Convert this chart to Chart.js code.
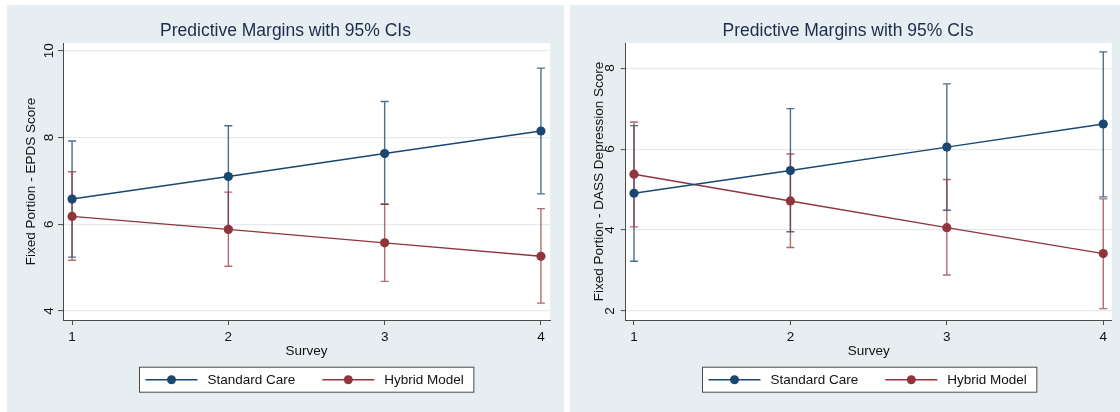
<!DOCTYPE html>
<html>
<head>
<meta charset="utf-8">
<script src="https://cdn.jsdelivr.net/npm/chart.js@4.4.1/dist/chart.umd.min.js"></script>
<style>
  html, body { margin: 0; padding: 0; background: #ffffff; width: 1120px; height: 412px; overflow: hidden; }
  .panel { position: absolute; top: 5px; height: 407px; background: #e7eef1; }
  canvas { display: block; }
</style>
</head>
<body>
<div class="panel" style="left:7px;width:557px;"><canvas id="c1" width="557" height="407"></canvas></div>
<div class="panel" style="left:570px;width:550px;"><canvas id="c2" width="550" height="407"></canvas></div>
<script>
// ---- data ----
const surveys = [1, 2, 3, 4];
const xTicks = [1, 2, 3, 4];
const seriesLabels = ['Standard Care', 'Hybrid Model'];
const chartTitle = 'Predictive Margins with 95% CIs';
const xAxisTitle = 'Survey';

// Left panel: EPDS
const epdsYTicks = [4, 6, 8, 10];
const epdsStandard    = [6.58, 7.10, 7.63, 8.15];
const epdsStandardLow = [5.24, 5.93, 6.46, 6.70];
const epdsStandardHigh= [7.92, 8.27, 8.83, 9.60];
const epdsHybrid      = [6.18, 5.88, 5.57, 5.26];
const epdsHybridLow   = [5.17, 5.03, 4.68, 4.18];
const epdsHybridHigh  = [7.21, 6.74, 6.46, 6.36];

// Right panel: DASS depression
const dassYTicks = [2, 4, 6, 8];
const dassStandard    = [4.91, 5.47, 6.05, 6.62];
const dassStandardLow = [3.23, 3.96, 4.49, 4.82];
const dassStandardHigh= [6.58, 7.00, 7.61, 8.40];
const dassHybrid      = [5.38, 4.72, 4.06, 3.42];
const dassHybridLow   = [4.08, 3.57, 2.89, 2.06];
const dassHybridHigh  = [6.67, 5.88, 5.25, 4.77];

// ---- styles ----
const FONT = "'Liberation Sans', Arial, Helvetica, sans-serif";
const NAVY = '#1a476f';
const MAROON = '#90353b';
const NAVY_CI = 'rgba(26,71,111,0.78)';
const MAROON_CI = 'rgba(144,53,59,0.72)';
const AXIS = '#4a4a4a';
const GRID = '#e3ebee';
const TEXT = '#111111';
const TITLE_COLOR = '#1c2c4c';

const plotBg = {
  id: 'plotBg',
  beforeDraw(chart) {
    const { ctx, chartArea: a } = chart;
    ctx.save();
    ctx.fillStyle = '#ffffff';
    ctx.fillRect(a.left, a.top, a.right - a.left, a.bottom - a.top);
    ctx.restore();
  }
};

const errorBars = {
  id: 'errorBars',
  beforeDatasetsDraw(chart) {
    const { ctx, scales: { x, y } } = chart;
    chart.data.datasets.forEach(ds => {
      ctx.save();
      ctx.strokeStyle = ds.ciColor;
      ctx.lineWidth = 1.4;
      ds.data.forEach((p, i) => {
        const px = x.getPixelForValue(p.x);
        const y1 = y.getPixelForValue(ds.ciLow[i]);
        const y2 = y.getPixelForValue(ds.ciHigh[i]);
        ctx.beginPath();
        ctx.moveTo(px, y1); ctx.lineTo(px, y2);
        ctx.moveTo(px - 4, y1); ctx.lineTo(px + 4, y1);
        ctx.moveTo(px - 4, y2); ctx.lineTo(px + 4, y2);
        ctx.stroke();
      });
      ctx.restore();
    });
  }
};

const boxLegend = {
  id: 'boxLegend',
  afterDraw(chart, args, opts) {
    const { ctx, chartArea: a } = chart;
    ctx.save();
    ctx.font = '13.5px ' + FONT;
    const items = chart.data.datasets.map(ds => ({
      label: ds.label, color: ds.borderColor, w: ctx.measureText(ds.label).width
    }));
    const padL = 6, lineW = 52, gap = 10, itemGap = 27, padR = 10, h = 25;
    let total = padL + padR;
    items.forEach((it, i) => { total += lineW + gap + it.w + (i < items.length - 1 ? itemGap : 0); });
    const cx = (a.left + a.right) / 2;
    const left = Math.round(cx - total / 2) + 0.5;
    const top = opts.top + 0.5;
    ctx.fillStyle = '#ffffff';
    ctx.fillRect(left, top, total, h);
    ctx.strokeStyle = AXIS;
    ctx.lineWidth = 1;
    ctx.strokeRect(left, top, total, h);
    const cy = top + h / 2;
    let xx = left + padL;
    items.forEach(it => {
      ctx.strokeStyle = it.color;
      ctx.lineWidth = 1.4;
      ctx.beginPath(); ctx.moveTo(xx, cy); ctx.lineTo(xx + lineW, cy); ctx.stroke();
      ctx.fillStyle = it.color;
      ctx.beginPath(); ctx.arc(xx + lineW / 2, cy, 4.5, 0, Math.PI * 2); ctx.fill();
      xx += lineW + gap;
      ctx.fillStyle = TEXT;
      ctx.textBaseline = 'middle';
      ctx.textAlign = 'left';
      ctx.fillText(it.label, xx, cy + 0.5);
      xx += it.w + itemGap;
    });
    ctx.restore();
  }
};

function pts(vals) { return surveys.map((s, i) => ({ x: s, y: vals[i] })); }

function makeChart(id, cfg) {
  return new Chart(document.getElementById(id), {
    type: 'line',
    data: {
      datasets: [
        { label: seriesLabels[0], data: pts(cfg.std), ciLow: cfg.stdLow, ciHigh: cfg.stdHigh,
          borderColor: NAVY, backgroundColor: NAVY, ciColor: NAVY_CI, borderWidth: 1.4,
          pointRadius: 4.6, pointHoverRadius: 4.6, pointBackgroundColor: NAVY, pointBorderWidth: 0, tension: 0 },
        { label: seriesLabels[1], data: pts(cfg.hyb), ciLow: cfg.hybLow, ciHigh: cfg.hybHigh,
          borderColor: MAROON, backgroundColor: MAROON, ciColor: MAROON_CI, borderWidth: 1.4,
          pointRadius: 4.6, pointHoverRadius: 4.6, pointBackgroundColor: MAROON, pointBorderWidth: 0, tension: 0 }
      ]
    },
    options: {
      responsive: false,
      animation: false,
      devicePixelRatio: 1,
      layout: { padding: { top: 0, left: cfg.padL, right: cfg.padR, bottom: 52.9 } },
      plugins: {
        legend: { display: false },
        tooltip: { enabled: false },
        title: {
          display: true, text: chartTitle, color: TITLE_COLOR,
          font: { family: FONT, size: 17.5, weight: 'normal', lineHeight: 1.2 },
          padding: { top: 15.5, bottom: 1.5 }
        },
        boxLegend: { top: 361.7 }
      },
      scales: {
        x: {
          type: 'linear', min: cfg.xMin, max: cfg.xMax,
          afterBuildTicks: s => { s.ticks = xTicks.map(v => ({ value: v })); },
          afterFit: s => { s.height = 39.1; },
          grid: { drawOnChartArea: false, drawTicks: true, tickLength: 5, tickColor: AXIS, tickWidth: 1 },
          border: { display: true, color: AXIS, width: 1 },
          ticks: { color: TEXT, padding: 4, font: { family: FONT, size: 13.5 }, maxRotation: 0, callback: v => String(v) },
          title: { display: true, text: xAxisTitle, color: TEXT, padding: { top: 0, bottom: 0 },
                   font: { family: FONT, size: 13.5, lineHeight: 1.2 } }
        },
        y: {
          type: 'linear', min: cfg.yMin, max: cfg.yMax,
          afterBuildTicks: s => { s.ticks = cfg.yTicks.map(v => ({ value: v })); },
          afterFit: s => { s.width = cfg.yWidth; },
          grid: { drawOnChartArea: true, color: GRID, lineWidth: 1.2, drawTicks: true, tickLength: 5, tickColor: AXIS, tickWidth: 1 },
          border: { display: true, color: AXIS, width: 1 },
          ticks: { color: TEXT, padding: cfg.yTickPad, minRotation: 90, maxRotation: 90, crossAlign: 'center',
                   font: { family: FONT, size: 13.5 }, callback: v => String(v) },
          title: { display: true, text: cfg.yTitle, color: TEXT, padding: { top: cfg.yTitlePad, bottom: 0 },
                   font: { family: FONT, size: 13.5, lineHeight: 1.2 } }
        }
      }
    },
    plugins: [plotBg, errorBars, boxLegend]
  });
}

makeChart('c1', {
  std: epdsStandard, stdLow: epdsStandardLow, stdHigh: epdsStandardHigh,
  hyb: epdsHybrid, hybLow: epdsHybridLow, hybHigh: epdsHybridHigh,
  yTicks: epdsYTicks, yMin: 3.79, yMax: 10.18, xMin: 0.942, xMax: 4.058,
  yTitle: 'Fixed Portion - EPDS Score',
  padL: 14, padR: 14, yWidth: 42, yTickPad: 1, yTitlePad: 2.6
});

makeChart('c2', {
  std: dassStandard, stdLow: dassStandardLow, stdHigh: dassStandardHigh,
  hyb: dassHybrid, hybLow: dassHybridLow, hybHigh: dassHybridHigh,
  yTicks: dassYTicks, yMin: 1.78, yMax: 8.62, xMin: 0.947, xMax: 4.054,
  yTitle: 'Fixed Portion - DASS Depression Score',
  padL: 14.3, padR: 8.3, yWidth: 41.4, yTickPad: 7, yTitlePad: 6.6
});
</script>
</body>
</html>
